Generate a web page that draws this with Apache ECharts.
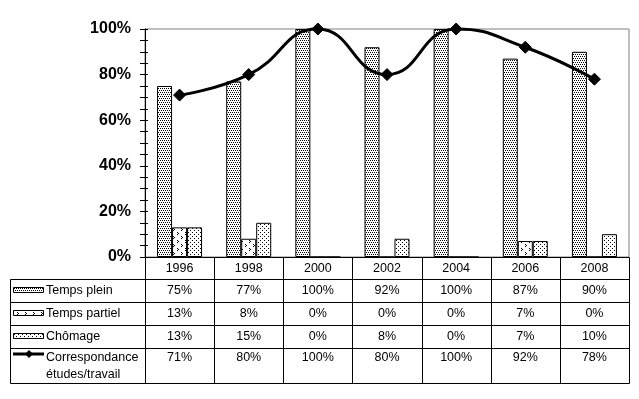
<!DOCTYPE html>
<html><head><meta charset="utf-8">
<script src="https://cdn.jsdelivr.net/npm/echarts@6/dist/echarts.min.js"></script>
<style>html,body{margin:0;padding:0;background:#fff}#c{width:639px;height:399px}</style>
</head><body><div id="c"></div>
<script>
const years = ['1996','1998','2000','2002','2004','2006','2008'];
const tempsPlein = [75,77,100,92,100,87,90];
const tempsPartiel = [13,8,0,0,0,7,0];
const chomage = [13,15,0,8,0,7,10];
const correspondance = [71,80,100,80,100,92,78];
const seriesNames = ['Temps plein','Temps partiel','Chômage','Correspondance'];
const lineLabel2 = 'études/travail';

function makePattern(w, h, dots) {
  const c = document.createElement('canvas');
  c.width = w; c.height = h;
  const g = c.getContext('2d');
  g.fillStyle = '#fff'; g.fillRect(0,0,w,h);
  g.fillStyle = '#000';
  dots.forEach(d => g.fillRect(d[0], d[1], 1, 1));
  return {image: c, repeat: 'repeat'};
}
const patPlein = makePattern(4,4,[[0,0],[2,0],[1,2],[3,2]]);
const patPartiel = makePattern(8,8,[[1,0],[2,1],[1,2],[5,4],[6,5],[5,6]]);
const patChomage = makePattern(4,4,[[0,0],[2,2]]);
const pats = [patPlein, patPartiel, patChomage];

const FONT = '"Liberation Sans", Arial, sans-serif';
const chart = echarts.init(document.getElementById('c'), null, {renderer:'canvas'});

const barStyle = p => ({color: p, borderColor:'#000', borderWidth:1});
chart.setOption({
  animation:false,
  backgroundColor:'#fff',
  grid:{left:145, right:10, top:29, bottom:142, show:true, borderColor:'#808080', borderWidth:1, backgroundColor:'transparent'},
  xAxis:{type:'category', data:years, axisLine:{lineStyle:{color:'#000', width:1}}, axisTick:{show:false}, axisLabel:{show:false}},
  yAxis:[
    {type:'value', min:0, max:100, interval:5,
     axisLine:{show:true, lineStyle:{color:'#000'}},
     axisTick:{show:true, length:5, lineStyle:{color:'#000'}},
     splitLine:{show:false},
     axisLabel:{margin:14, fontFamily:FONT, fontSize:16, fontWeight:'bold', color:'#000',
       formatter: v => (v % 20 === 0 ? v + '%' : '')}},
    {type:'value', min:0, max:100, interval:5, position:'left', offset:0,
     axisLine:{show:false}, axisTick:{show:true, inside:true, length:3, lineStyle:{color:'#000'}},
     splitLine:{show:false}, axisLabel:{show:false}}
  ],
  series:[
    {name:seriesNames[0], type:'bar', data:tempsPlein, barWidth:15, barGap:'0%', itemStyle:barStyle(patPlein)},
    {name:seriesNames[1], type:'bar', data:tempsPartiel, barWidth:15, barGap:'0%', itemStyle:barStyle(patPartiel)},
    {name:seriesNames[2], type:'bar', data:chomage, barWidth:15, barGap:'0%', itemStyle:barStyle(patChomage)},
    {name:seriesNames[3], type:'line', data:correspondance, smooth:0.5, clip:false, z:5,
     lineStyle:{color:'#000', width:3}, symbol:'diamond', symbolSize:12,
     itemStyle:{color:'#000', borderColor:'#000'}}
  ]
});

// data table
const cx = years.map((y,i) => chart.convertToPixel({xAxisIndex:0}, i));
const w = cx[1] - cx[0];
const plotLeft = cx[0] - w/2;
const plotRight = cx[cx.length-1] + w/2;
const y0 = chart.convertToPixel({yAxisIndex:0}, 0);
const tableLeft = 10;
const rows = [y0, y0+22, y0+45, y0+68, y0+91, y0+126];
const px = v => Math.round(v) + 0.5;
const g = [];
const ln = (x1,y1,x2,y2) => g.push({type:'line', shape:{x1:px(x1),y1:px(y1),x2:px(x2),y2:px(y2)}, style:{stroke:'#000', lineWidth:1}, z:10});
for (let r = 1; r < rows.length; r++) ln(tableLeft, rows[r], plotRight, rows[r]);
ln(tableLeft, rows[1], tableLeft, rows[5]);
for (let k = 0; k <= years.length; k++) ln(plotLeft + k*w, rows[0], plotLeft + k*w, rows[5]);

const TF = '12.5px ' + FONT;
const txt = (t, x, y, align) => g.push({type:'text', x:x, y:y, z:11,
  style:{text:t, font:TF, fill:'#000', textAlign:align||'center', textVerticalAlign:'middle', align:align||'center', verticalAlign:'middle'}});
const fmt = v => v + '%';
const rowData = [tempsPlein, tempsPartiel, chomage, correspondance];
const rowTextY = [(rows[1]+rows[2])/2, (rows[2]+rows[3])/2, (rows[3]+rows[4])/2, rows[4]+10];
years.forEach((yr,i) => {
  txt(yr, cx[i], (rows[0]+rows[1])/2 + 1);
  rowData.forEach((arr, r) => txt(fmt(arr[i]), cx[i], rowTextY[r]));
});
const labelX = 46;
seriesNames.forEach((n, r) => txt(n, labelX, rowTextY[r], 'left'));
txt(lineLabel2, labelX, rowTextY[3] + 17, 'left');
// legend keys
for (let r = 0; r < 3; r++) {
  g.push({type:'rect', shape:{x:13.5, y:Math.round(rowTextY[r]) - 3.5, width:30, height:5},
    style:{fill:pats[r], stroke:'#000', lineWidth:1}, z:11});
}
const ly = Math.round(rowTextY[3]) - 4;
g.push({type:'line', shape:{x1:13, y1:ly, x2:44, y2:ly}, style:{stroke:'#000', lineWidth:3}, z:11});
g.push({type:'polygon', shape:{points:[[29,ly-4],[33,ly],[29,ly+4],[25,ly]]}, style:{fill:'#000'}, z:12});
chart.setOption({graphic:g});
</script></body></html>
